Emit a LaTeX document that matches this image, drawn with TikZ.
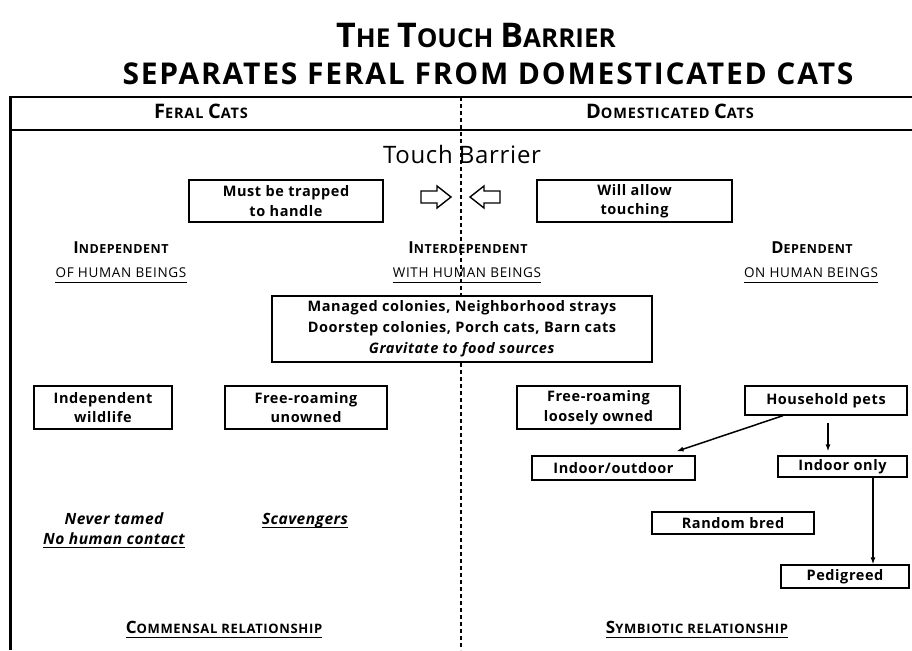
\documentclass[tikz,border=0pt]{standalone}
\usepackage{fontspec}
\setmainfont{Open Sans}
\usetikzlibrary{arrows.meta}
% big initial followed by smaller capitals (fake small caps)
\newcommand\twocap[4]{{\fontsize{#1}{#1}\selectfont #2}{\fontsize{#3}{#3}\selectfont #4}}
\newcommand\fsz[1]{\fontsize{#1}{#1}\selectfont}
\newcommand\spaced[1]{\addfontfeature{LetterSpace=#1}}
\begin{document}
\begin{tikzpicture}[x=1pt,y=-1pt,
  box/.style={draw, line width=1.3pt, fill=white, align=center, inner sep=0pt,
    font=\bfseries\fontsize{14.5}{19.5}\selectfont\spaced{4}},
  lbl/.style={inner sep=0pt, anchor=base, align=center},
  conn/.style={line width=1.5pt, -{Latex[length=7pt,width=5pt]}},
  uline/.style={line width=1pt},
  blockarrow/.style={draw, line width=1.4pt, fill=white, line join=miter}]
\useasboundingbox (0,0) rectangle (912,650);

% title
\node[lbl] (t1) at (476,48) {\bfseries\fsz{26}\twocap{34}{T}{26}{HE} \twocap{34}{T}{26}{OUCH} \twocap{34}{B}{26}{ARRIER}};
\node[lbl] (t2) at (488,85) {\bfseries\fsz{30}\spaced{6}SEPARATES FERAL FROM DOMESTICATED CATS};

% frame and header row
\draw[line width=1.6pt] (10,97) -- (912,97);
\draw[line width=1.6pt] (10,130) -- (912,130);
\draw[line width=3pt] (10,96) -- (10,650);
\node[lbl] (feral) at (201,119) {\bfseries\spaced{6}\fsz{14}\twocap{20}{F}{14.5}{ERAL} \twocap{20}{C}{14.5}{ATS}};
\node[lbl] (dom) at (670,119) {\bfseries\spaced{6}\fsz{14}\twocap{20}{D}{14.5}{OMESTICATED} \twocap{20}{C}{14.5}{ATS}};

% the barrier
\draw[line width=1.6pt, dash pattern=on 4pt off 3pt] (461,97) -- (461,650);
\node[lbl] (barrier) at (462,163) {\fsz{24}\spaced{3}Touch\hspace{6pt}Barrier};

% touch boxes and block arrows
\node[box, minimum width=194pt, minimum height=42pt] (trap) at (286,201) {Must be trapped\\to handle};
\node[box, minimum width=195pt, minimum height=42pt] (allow) at (634.5,201) {Will allow\\touching};
\draw[blockarrow] (421,191) -- (437,191) -- (437,186) -- (451,197) -- (437,208) -- (437,203) -- (421,203) -- cycle;
\draw[blockarrow] (500,191) -- (484,191) -- (484,186) -- (470,197) -- (484,208) -- (484,203) -- (500,203) -- cycle;

% relation to human beings
\node[lbl] (indep) at (121,253) {\bfseries\spaced{4}\twocap{16.5}{I}{12.5}{NDEPENDENT}};
\node[lbl] (indep2) at (121,277) {\fsz{13.5}\spaced{5}OF HUMAN BEINGS};
\draw[uline] ([yshift=-5pt]indep2.base west) -- ([yshift=-5pt]indep2.base east);
\node[lbl] (inter) at (468,253) {\bfseries\spaced{4}\twocap{16.5}{I}{12.5}{NTERDEPENDENT}};
\node[lbl] (inter2) at (467,277) {\fsz{13.5}\spaced{5}WITH HUMAN BEINGS};
\draw[uline] ([yshift=-5pt]inter2.base west) -- ([yshift=-5pt]inter2.base east);
\node[lbl] (dep) at (812,253) {\bfseries\spaced{4}\twocap{16.5}{D}{12.5}{EPENDENT}};
\node[lbl] (dep2) at (811,277) {\fsz{13.5}\spaced{5}ON HUMAN BEINGS};
\draw[uline] ([yshift=-5pt]dep2.base west) -- ([yshift=-5pt]dep2.base east);

% interdependent colonies
\node[box, minimum width=380pt, minimum height=66pt, font=\bfseries\fontsize{14.5}{21}\selectfont\spaced{4}] (managed) at (462,329)
  {Managed colonies, Neighborhood strays\\Doorstep colonies, Porch cats, Barn cats\\\textit{Gravitate to food sources}};

% categories
\node[box, minimum width=138pt, minimum height=43pt] (wild) at (103,407.5) {Independent\\wildlife};
\node[box, minimum width=162pt, minimum height=43pt] (unowned) at (306,407.5) {Free-roaming\\unowned};
\node[box, minimum width=163pt, minimum height=43pt] (loose) at (598.5,407.5) {Free-roaming\\loosely owned};
\node[box, minimum width=162pt, minimum height=29pt] (pets) at (826,400.5) {Household pets};
\node[box, minimum width=163pt, minimum height=24pt] (inout) at (613.5,468) {Indoor/outdoor};
\node[box, minimum width=129pt, minimum height=21pt] (indoor) at (842.5,466.5) {Indoor only};
\node[box, minimum width=162pt, minimum height=22pt] (random) at (733,523) {Random bred};
\node[box, minimum width=128pt, minimum height=23pt] (pedigreed) at (845,576.5) {Pedigreed};

\draw[conn] ([xshift=-43pt]pets.south) -- ([xshift=63pt,yshift=4pt]inout.north);
\draw[conn] ([xshift=2pt,yshift=-7pt]pets.south) -- ([xshift=-14.5pt,yshift=4pt]indoor.north);
\draw[conn] ([xshift=30.5pt]indoor.south) -- ([xshift=30.5pt]indoor.south |- pedigreed.north);

% feral notes
\node[lbl] (never) at (114,524) {\bfseries\itshape\fsz{15.5}\spaced{3}Never tamed};
\node[lbl] (nocontact) at (114,544) {\bfseries\itshape\fsz{15.5}\spaced{3}No human contact};
\draw[uline] ([yshift=-3pt]nocontact.base west) -- ([yshift=-3pt]nocontact.base east);
\node[lbl] (scav) at (305,524) {\bfseries\itshape\fsz{15.5}\spaced{3}Scavengers};
\draw[uline] ([yshift=-3pt]scav.base west) -- ([yshift=-3pt]scav.base east);

% relationships
\node[lbl] (comm) at (224,633) {\bfseries\spaced{5}\fsz{13}\twocap{17}{C}{13}{OMMENSAL RELATIONSHIP}};
\draw[uline] ([yshift=-4pt]comm.base west) -- ([yshift=-4pt]comm.base east);
\node[lbl] (symb) at (697,633) {\bfseries\spaced{5}\fsz{13}\twocap{17}{S}{13}{YMBIOTIC RELATIONSHIP}};
\draw[uline] ([yshift=-4pt]symb.base west) -- ([yshift=-4pt]symb.base east);
\end{tikzpicture}
\end{document}
